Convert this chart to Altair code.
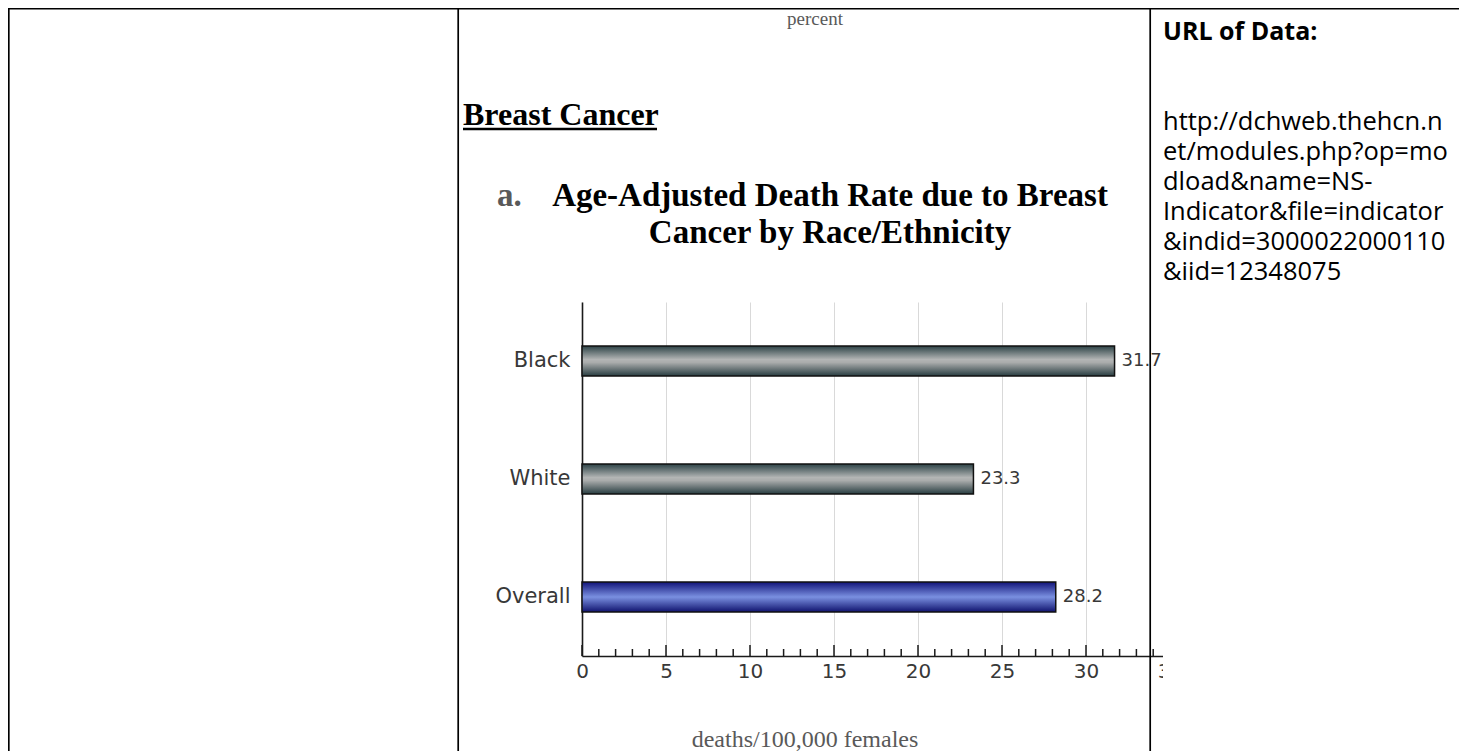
import altair as alt
import pandas as pd

# ---- data -------------------------------------------------------------
categories = ["Black", "White", "Overall"]
rates = [31.7, 23.3, 28.2]
groups = ["race", "race", "total"]
major_ticks = [0, 5, 10, 15, 20, 25, 30, 35]
minor_ticks = list(range(0, 36))
url_lines = [
    "http://dchweb.thehcn.n",
    "et/modules.php?op=mo",
    "dload&name=NS-",
    "Indicator&file=indicator",
    "&indid=3000022000110",
    "&iid=12348075",
]
title_lines = ["Age-Adjusted Death Rate due to Breast", "Cancer by Race/Ethnicity"]

# ---- layout -----------------------------------------------------------
PLOT_W, PLOT_H = 588, 354
PAD_L, PAD_T = 574, 294
PAD_R = 1451 - PAD_L - PLOT_W
PAD_B = 743 - PAD_T - PLOT_H

SANS = "DejaVu Sans"
SERIF = "Liberation Serif"
DOC_SANS = "Open Sans"

bars_df = pd.DataFrame({"category": categories, "rate": rates, "group": groups})
ticks_df = pd.DataFrame({"v": minor_ticks, "major": [v in major_ticks for v in minor_ticks]})
one = pd.DataFrame({"a": [0]})

x_scale = alt.Scale(domain=[0, 35], nice=False, zero=True)
y_scale = alt.Scale(domain=categories, paddingInner=0.746, paddingOuter=0.373)

gray_grad = {
    "gradient": "linear", "x1": 0, "y1": 0, "x2": 0, "y2": 1,
    "stops": [
        {"offset": 0, "color": "#2c4246"},
        {"offset": 0.45, "color": "#b3b5b5"},
        {"offset": 0.55, "color": "#aaacac"},
        {"offset": 1, "color": "#283d41"},
    ],
}
blue_grad = {
    "gradient": "linear", "x1": 0, "y1": 0, "x2": 0, "y2": 1,
    "stops": [
        {"offset": 0, "color": "#12147a"},
        {"offset": 0.5, "color": "#7a90e0"},
        {"offset": 1, "color": "#0f126e"},
    ],
}

x_axis = alt.Axis(
    values=major_ticks, grid=True, gridColor="#d9d9d9", gridWidth=1,
    ticks=False, tickSize=0, domainColor="#1a1a1a", domainWidth=1.6,
    labelFont=SANS, labelFontSize=20, labelColor="#383838", labelPadding=5,
    labelFlush=False, labelOverlap=False, title=None,
)
y_axis = alt.Axis(
    ticks=False, tickSize=0, grid=False, domainColor="#1a1a1a", domainWidth=1.6,
    labelFont=SANS, labelFontSize=21, labelColor="#383838", labelPadding=12,
    title=None,
)

X_RATE = alt.X("rate:Q", scale=x_scale, axis=x_axis)
Y_CAT = alt.Y("category:N", scale=y_scale, sort=categories, axis=y_axis)

base = alt.Chart(bars_df)

gray_bars = base.transform_filter(alt.datum.group == "race").mark_bar(
    fill=gray_grad, stroke="#111111", strokeWidth=1.5
).encode(x=X_RATE, y=Y_CAT)
blue_bars = base.transform_filter(alt.datum.group == "total").mark_bar(
    fill=blue_grad, stroke="#111111", strokeWidth=1.5
).encode(x=X_RATE, y=Y_CAT)
value_labels = base.mark_text(
    align="left", baseline="middle", dx=7, font=SANS, fontSize=18, color="#383838"
).encode(x=X_RATE, y=Y_CAT, text=alt.Text("rate:Q", format=".1f"))

tick_major = alt.Chart(ticks_df).transform_filter(alt.datum.major).mark_rule(
    color="#1a1a1a", strokeWidth=1.5
).encode(
    x=alt.X("v:Q", scale=x_scale, axis=x_axis),
    y=alt.value(PLOT_H - 11), y2=alt.value(PLOT_H),
)
tick_minor = alt.Chart(ticks_df).transform_filter(~alt.datum.major).mark_rule(
    color="#1a1a1a", strokeWidth=1.5
).encode(
    x=alt.X("v:Q", scale=x_scale, axis=x_axis),
    y=alt.value(PLOT_H - 7), y2=alt.value(PLOT_H),
)

# clip of the embedded chart picture at its right edge
clip = alt.Chart(one).mark_rect(color="white").encode(
    x=alt.value(581), x2=alt.value(900), y=alt.value(-300), y2=alt.value(460)
)

def txt(text, x, y, **kw):
    return alt.Chart(one).mark_text(**kw).encode(
        x=alt.value(x), y=alt.value(y), text=alt.value(text)
    )

percent = txt("percent", 233, -283, align="center", baseline="middle",
              font=SERIF, fontSize=19, color="#595959")
breast = txt("Breast Cancer", -119, -177, align="left", baseline="alphabetic",
             font=SERIF, fontSize=32, fontWeight="bold", color="#000000")
underline = alt.Chart(one).mark_rule(color="#000000", strokeWidth=2.5).encode(
    x=alt.value(-119), x2=alt.value(75), y=alt.value(-173)
)
a_label = txt("a.", -85, -96, align="left", baseline="alphabetic",
              font=SERIF, fontSize=33, fontWeight="bold", color="#595959")
title = txt(title_lines, 248, -96, align="center", baseline="alphabetic",
            font=SERIF, fontSize=33, fontWeight="bold", color="#000000", lineHeight=37)
xtitle = txt("deaths/100,000 females", 223, 445, align="center", baseline="alphabetic",
             font=SERIF, fontSize=24, color="#595959")
url_head = txt("URL of Data:", 581, -262, align="left", baseline="alphabetic",
               font=DOC_SANS, fontSize=25, fontWeight="bold", color="#000000")
url_body = txt(url_lines, 581, -172, align="left", baseline="alphabetic",
               font=DOC_SANS, fontSize=25.5, color="#000000", lineHeight=30)

def vline(x):
    return alt.Chart(one).mark_rule(color="#000000", strokeWidth=1.7).encode(
        x=alt.value(x), y=alt.value(-293.5), y2=alt.value(460)
    )

top_line = alt.Chart(one).mark_rule(color="#000000", strokeWidth=1.6).encode(
    x=alt.value(-575), x2=alt.value(900), y=alt.value(-293.2)
)

chart = alt.layer(
    gray_bars, blue_bars, value_labels, tick_major, tick_minor,
    clip,
    percent, breast, underline, a_label, title, xtitle, url_head, url_body,
    top_line, vline(-573.2), vline(-123.8), vline(568.2),
).properties(
    width=PLOT_W, height=PLOT_H,
    autosize=alt.AutoSizeParams(type="none"),
    padding={"left": PAD_L, "top": PAD_T, "right": PAD_R, "bottom": PAD_B},
).configure_view(stroke=None)

chart.save("out.html", embed_options={"renderer": "svg", "actions": False})
